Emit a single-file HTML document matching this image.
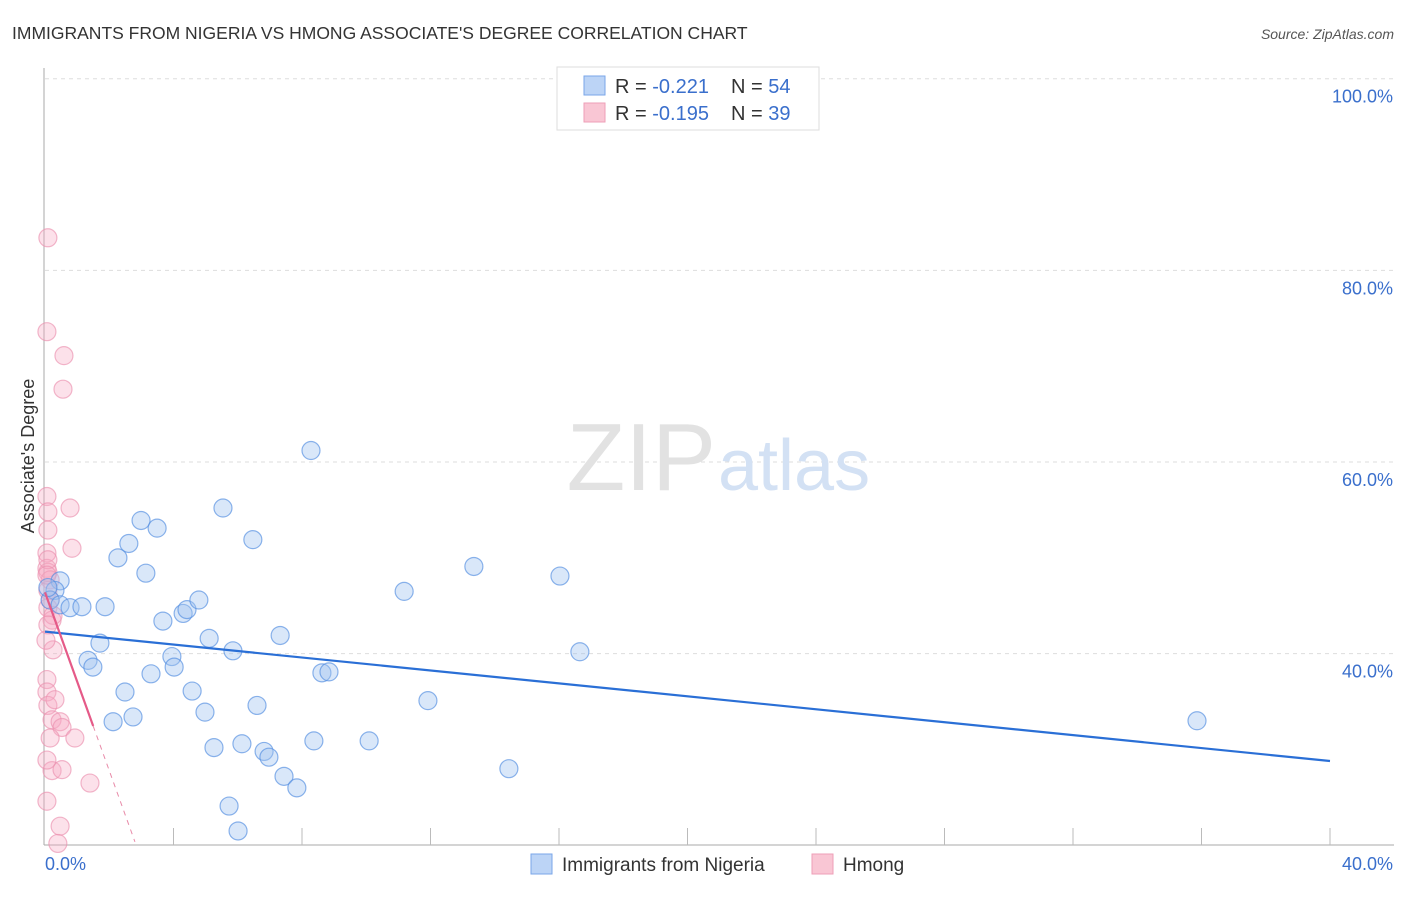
<!DOCTYPE html>
<html><head><meta charset="utf-8"><style>
body{margin:0;background:#fff;font-family:"Liberation Sans",sans-serif;}
svg text{font-family:"Liberation Sans",sans-serif;}
</style></head><body>
<svg id="chart" width="1406" height="892">
<text x="12" y="39" font-size="17.5" fill="#333">IMMIGRANTS FROM NIGERIA VS HMONG ASSOCIATE'S DEGREE CORRELATION CHART</text>
<text x="1394" y="39" font-size="14" fill="#555" font-style="italic" text-anchor="end">Source: ZipAtlas.com</text>
<text x="34" y="456" font-size="18" fill="#333" transform="rotate(-90 34 456)" text-anchor="middle">Associate's Degree</text>
<g id="grid"></g>
<text x="716" y="490" font-size="96" fill="#e2e2e2" font-family="Liberation Serif" text-anchor="end">ZIP</text>
<text x="718" y="490" font-size="72" fill="#d3e1f4">atlas</text>
<g id="marks"></g>
<g>
<rect x="557" y="67" width="262" height="63" fill="#fff" stroke="#ddd"/>
<rect x="584" y="76" width="21" height="19" fill="#bcd4f6" stroke="#7aa6e8"/>
<rect x="584" y="103" width="21" height="19" fill="#f9c6d4" stroke="#ee9fb7"/>
<text x="615" y="93" font-size="20" fill="#333">R = <tspan fill="#3a6fcc">-0.221</tspan><tspan x="731">N = </tspan><tspan fill="#3a6fcc">54</tspan></text>
<text x="615" y="120" font-size="20" fill="#333">R = <tspan fill="#3a6fcc">-0.195</tspan><tspan x="731">N = </tspan><tspan fill="#3a6fcc">39</tspan></text>
</g>
<g>
<rect x="531" y="854" width="21" height="20" fill="#bcd4f6" stroke="#7aa6e8"/>
<text x="562" y="871" font-size="19" fill="#333">Immigrants from Nigeria</text>
<rect x="812" y="854" width="21" height="20" fill="#f9c6d4" stroke="#ee9fb7"/>
<text x="843" y="871" font-size="19" fill="#333">Hmong</text>
</g>
</svg>
<script>
const blueX=[.47,.31,.16,.47,.78,1.15,1.87,1.71,1.34,1.49,2.49,2.12,2.74,2.27,2.61,2.99,3.49,3.14,3.67,3.30,3.95,4.02,4.30,4.42,4.79,4.58,4.98,5.11,5.26,5.54,5.85,6.13,6.47,6.60,6.82,6.97,7.32,7.44,7.84,5.73,6.01,8.28,8.37,8.62,8.84,10.09,11.18,11.92,13.35,14.44,16.03,16.65,35.86,.09];
const blueY=[47.6,46.6,45.6,45.1,44.8,44.9,44.9,41.1,39.3,38.6,36.0,32.9,33.4,50.0,51.5,53.9,53.1,48.4,43.4,37.9,39.7,38.6,44.2,44.6,45.6,36.1,33.9,41.6,30.2,55.2,40.3,30.6,51.9,34.6,29.8,29.2,41.9,27.2,26.0,24.1,21.5,61.2,30.9,38.0,38.1,30.9,46.5,35.1,49.1,28.0,48.1,40.2,33.0,46.9];
const pinkX=[.09,.06,.59,.56,.06,.78,.09,.09,.84,.06,.06,.09,.16,.09,.16,.09,.22,.25,.06,.06,.09,.22,.47,.53,.16,.93,.22,.53,1.40,.06,.47,.40,.09,.06,.25,.09,.31,.06,.03];
const pinkY=[83.4,73.6,71.1,67.6,56.4,55.2,54.8,52.9,51.0,50.5,48.9,48.5,47.7,46.6,45.6,44.8,43.5,40.4,37.3,36.0,34.6,33.1,32.9,32.3,31.2,31.2,27.8,27.9,26.5,24.6,22.0,20.2,49.8,48.2,44.0,43.0,35.2,28.9,41.4];
const yTicks=[100,80,60,40];
const xTickVals=[4,8,12,16,20,24,28,32,36,40];
const blueTrend=[42.3,28.8];
const pinkTrend=[46.4,-9.3];
const NS="http://www.w3.org/2000/svg";
const sx=v=>45+v*32.125, sy=v=>1037-v*9.583;
function mk(t,a,p){const e=document.createElementNS(NS,t);for(const k in a)e.setAttribute(k,a[k]);p.appendChild(e);return e;}
const grid=document.getElementById('grid'), marks=document.getElementById('marks');
yTicks.forEach(v=>{
  const l=mk('line',{x1:45,x2:1394,y1:sy(v),y2:sy(v),stroke:'#ddd','stroke-dasharray':'4 4'},grid);
  
  
  const t=mk('text',{x:1393,y:sy(v)+24,'font-size':18,fill:'#3a6fcc','text-anchor':'end'},grid);
  t.textContent=v.toFixed(1)+'%';
  
  
});
mk('line',{x1:44,x2:44,y1:68,y2:845,stroke:'#aaa'},grid);
mk('line',{x1:44,x2:1394,y1:845,y2:845,stroke:'#aaa'},grid);
xTickVals.forEach(v=>{
  const l=mk('line',{x1:sx(v),x2:sx(v),y1:828,y2:845,stroke:'#bbb'},grid);
  
  
});
const x0=mk('text',{x:45,y:870,'font-size':18,fill:'#3a6fcc'},grid);x0.textContent='0.0%';


const x1=mk('text',{x:1393,y:870,'font-size':18,fill:'#3a6fcc','text-anchor':'end'},grid);x1.textContent='40.0%';


pinkX.forEach((x,i)=>{
  const c=mk('circle',{cx:sx(x),cy:sy(pinkY[i]),r:9,fill:'rgba(246,170,195,0.35)',stroke:'rgba(235,145,175,0.65)','stroke-width':1.2},marks);
  
  
});
blueX.forEach((x,i)=>{
  const c=mk('circle',{cx:sx(x),cy:sy(blueY[i]),r:9,fill:'rgba(160,195,240,0.4)',stroke:'rgba(80,140,225,0.65)','stroke-width':1.2},marks);
  
  
});
const bt=mk('line',{x1:sx(0),y1:sy(blueTrend[0]),x2:sx(40),y2:sy(blueTrend[1]),stroke:'#2a6fd6','stroke-width':2.2},marks);


const pf=x=>pinkTrend[0]+pinkTrend[1]*x;
const ps=mk('line',{x1:sx(0),y1:sy(pf(0)),x2:sx(1.5),y2:sy(pf(1.5)),stroke:'#e55a88','stroke-width':2.2},marks);


const pd=mk('line',{x1:sx(1.5),y1:sy(pf(1.5)),x2:sx(2.8),y2:sy(pf(2.8)),stroke:'#e88aa8','stroke-width':1,'stroke-dasharray':'5 5'},marks);


</script>
</body></html>
